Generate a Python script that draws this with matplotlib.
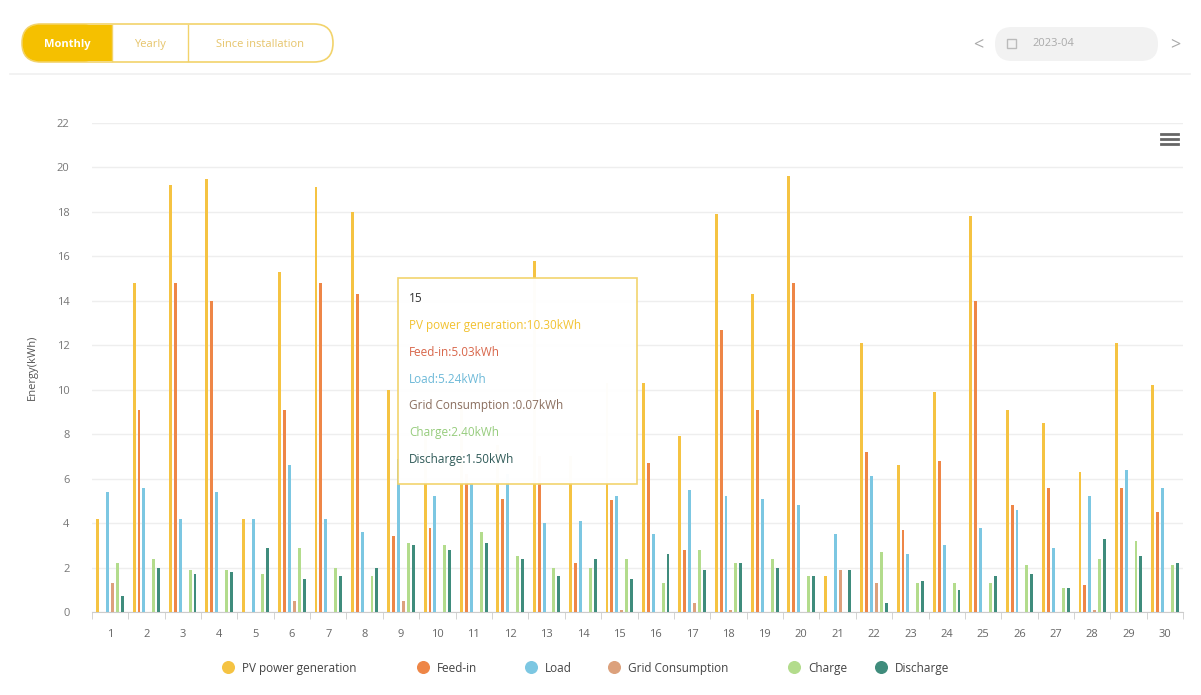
import matplotlib
matplotlib.use("Agg")
import matplotlib.pyplot as plt
from matplotlib.patches import FancyBboxPatch, Rectangle
import numpy as np

plt.rcParams['font.family'] = ['Open Sans', 'DejaVu Sans']

# data (kWh per day, April 2023)
days = list(range(1, 31))
series_names = ["PV power generation", "Feed-in", "Load", "Grid Consumption", "Charge", "Discharge"]
series_colors = ["#f5c342", "#ee8647", "#7cc7e2", "#dca17c", "#b3dc8c", "#3f8c7c"]
pv = [4.2, 14.8, 19.2, 19.5, 4.2, 15.3, 19.1, 18.0, 10.0, 8.0, 9.5, 7.5, 15.8, 7.0, 10.30,
      10.3, 7.9, 17.9, 14.3, 19.6, 1.6, 12.1, 6.6, 9.9, 17.8, 9.1, 8.5, 6.3, 12.1, 10.2]
feed_in = [0, 9.1, 14.8, 14.0, 0, 9.1, 14.8, 14.3, 3.4, 3.8, 6.2, 5.1, 7.0, 2.2, 5.03,
           6.7, 2.8, 12.7, 9.1, 14.8, 0, 7.2, 3.7, 6.8, 14.0, 4.8, 5.6, 1.2, 5.6, 4.5]
load = [5.4, 5.6, 4.2, 5.4, 4.2, 6.6, 4.2, 3.6, 6.9, 5.2, 5.8, 6.2, 4.0, 4.1, 5.24,
        3.5, 5.5, 5.2, 5.1, 4.8, 3.5, 6.1, 2.6, 3.0, 3.8, 4.6, 2.9, 5.2, 6.4, 5.6]
grid = [1.3, 0, 0, 0, 0, 0.5, 0, 0, 0.5, 0, 0, 0, 0, 0, 0.07,
        0, 0.4, 0.1, 0, 0, 1.9, 1.3, 0, 0, 0, 0, 0, 0.1, 0, 0]
charge = [2.2, 2.4, 1.9, 1.9, 1.7, 2.9, 2.0, 1.6, 3.1, 3.0, 3.6, 2.5, 2.0, 2.0, 2.40,
          1.3, 2.8, 2.2, 2.4, 1.6, 0, 2.7, 1.3, 1.3, 1.3, 2.1, 1.1, 2.4, 3.2, 2.1]
discharge = [0.7, 2.0, 1.7, 1.8, 2.9, 1.5, 1.6, 2.0, 3.0, 2.8, 3.1, 2.4, 1.6, 2.4, 1.50,
             2.6, 1.9, 2.2, 2.0, 1.6, 1.9, 0.4, 1.4, 1.0, 1.6, 1.7, 1.1, 3.3, 2.5, 2.2]
all_series = [pv, feed_in, load, grid, charge, discharge]
tooltip_day = 15

W, H = 1201, 695
fig = plt.figure(figsize=(W / 100, H / 100), dpi=100)

# main chart area
ax = fig.add_axes([91.8 / W, (H - 612) / H, (1183.2 - 91.8) / W, (612 - 123) / H])
x = np.array(days)
step = 0.135
for i, (vals, c) in enumerate(zip(all_series, series_colors)):
    ax.bar(x + (i - 2.5) * step, vals, width=0.08, color=c, zorder=3, linewidth=0)

ax.set_xlim(0.5, 30.5)
ax.set_ylim(0, 22)
ax.set_yticks(range(0, 23, 2))
ax.set_xticks(days)
ax.set_xticks(np.arange(0.5, 31, 1), minor=True)
ax.tick_params(axis='x', which='major', length=0, pad=12, labelsize=8, colors='#666666')
ax.tick_params(axis='x', which='minor', length=5, color='#cccccc')
ax.tick_params(axis='y', length=0, pad=16, labelsize=8, colors='#777777')
ax.grid(axis='y', color='#eeeeee', linewidth=1, zorder=0)
for s in ['top', 'right', 'left']:
    ax.spines[s].set_visible(False)
ax.spines['bottom'].set_color('#cccccc')
ax.set_ylabel("Energy(kWh)", fontsize=8, color='#555555', labelpad=14)

# overlay in pixel coords for UI pieces
ov = fig.add_axes([0, 0, 1, 1], zorder=10)
ov.set_xlim(0, W)
ov.set_ylim(H, 0)
ov.axis('off')

# button group
ov.add_patch(FancyBboxPatch((22, 24), 311, 38, boxstyle="round,pad=0,rounding_size=19",
                            fc='white', ec='#f2d36b', lw=1.2))
ov.add_patch(FancyBboxPatch((22.6, 24.6), 80, 36.8, boxstyle="round,pad=0,rounding_size=18.4",
                            fc='#f5c000', ec='none'))
ov.add_patch(Rectangle((60, 24.6), 52, 36.8, fc='#f5c000', ec='none'))
ov.plot([112, 112], [24.6, 61.4], color='#f2d36b', lw=1)
ov.plot([188, 188], [24.6, 61.4], color='#f2d36b', lw=1)
ov.text(67, 43, "Monthly", color='white', fontsize=8, fontweight='bold',
        ha='center', va='center_baseline')
ov.text(150, 43, "Yearly", color='#e6c46a', fontsize=8, ha='center', va='center_baseline')
ov.text(260, 43, "Since installation", color='#e6c46a', fontsize=8,
        ha='center', va='center_baseline')

# month picker
ov.text(978, 44, "<", color='#aaaaaa', fontsize=13, ha='center', va='center')
ov.text(1175, 44, ">", color='#aaaaaa', fontsize=13, ha='center', va='center')
ov.add_patch(FancyBboxPatch((995, 27), 163, 34, boxstyle="round,pad=0,rounding_size=17",
                            fc='#f2f2f2', ec='none'))
ov.add_patch(Rectangle((1007, 39), 9, 9, fc='none', ec='#bbbbbb', lw=1))
ov.text(1032, 44, "2023-04", color='#aaaaaa', fontsize=8, ha='left', va='center')
ov.plot([10, 1190], [74, 74], color='#f0f0f0', lw=1.2)

# menu icon
for yy in [134, 139, 144]:
    ov.plot([1161, 1178], [yy, yy], color='#666666', lw=2)

# tooltip for day 15
k = days.index(tooltip_day)
ov.add_patch(Rectangle((398, 278), 239, 206, fc='white', ec='#f2d36b', lw=1.2, alpha=0.98))
tip_colors = ['#f2c230', '#d8664a', '#6db9d8', '#8a6e5e', '#96cc7c', '#2f5a58']
ov.text(409, 298, str(tooltip_day), color='#333333', fontsize=8.5, va='center')
labels = ["PV power generation:", "Feed-in:", "Load:", "Grid Consumption :", "Charge:", "Discharge:"]
for i, (lab, vals) in enumerate(zip(labels, all_series)):
    ov.text(409, 324 + i * 26.8, f"{lab}{vals[k]:.2f}kWh", color=tip_colors[i],
            fontsize=8.5, va='center_baseline')

# legend
leg_circ = [228, 423, 531, 614, 794, 881]
for cx, name, c in zip(leg_circ, series_names, series_colors):
    ov.scatter([cx], [667], s=70, color=c, zorder=5)
    ov.text(cx + 14, 667, name, color='#444444', fontsize=8.5, va='center_baseline', ha='left')

fig.savefig("out.png", dpi=100)
